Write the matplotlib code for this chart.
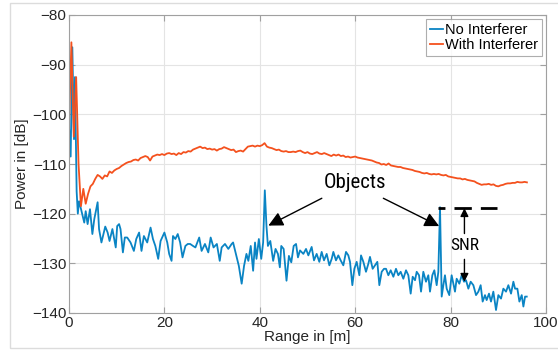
import numpy as np
import matplotlib.pyplot as plt
from matplotlib.patches import Rectangle

plt.rcParams['font.family'] = ['Liberation Sans', 'DejaVu Sans']
plt.rcParams['lines.scale_dashes'] = False

# range bins (m) and power (dB)
blue_range = [0.0, 0.35, 0.7, 1.05, 1.25, 1.6, 1.85, 2.1, 2.5, 3.2, 3.5, 3.9, 4.4, 4.9,
              5.3, 6.0, 6.3, 6.8, 7.6, 8.1, 8.5, 9.1, 9.8, 10.1, 10.5, 10.8, 11.3, 11.7,
              12.2, 12.9, 13.6, 14.1, 14.7, 15.2, 15.7, 16.4, 17.1, 17.6, 18.1, 18.7, 19.2,
              20.0, 20.6, 21.0, 21.5, 21.8, 22.3, 22.8, 23.3, 23.8, 24.4, 24.9, 25.4, 26.0,
              26.5, 27.3, 27.8, 28.5, 29.2, 29.7, 30.3, 31.0, 31.6, 32.0, 32.7, 33.4, 34.1,
              34.4, 35.1, 35.6, 36.2, 36.7, 37.2, 37.6, 38.1, 38.6, 39.0, 39.3, 39.8, 40.3,
              40.7, 41.05, 41.4, 41.7, 42.2, 42.8, 43.3, 43.8, 44.2, 44.5, 45.0, 45.6, 46.1,
              46.6, 47.1, 47.6, 48.0, 48.43, 49.13, 49.69, 50.18, 50.87, 51.36, 51.92, 52.48,
              52.97, 53.46, 54.02, 54.58, 55.07, 55.42, 55.97, 56.46, 56.95, 57.51, 58.07,
              58.56, 58.91, 59.4, 59.82, 60.31, 60.87, 61.22, 61.71, 62.26, 62.75, 63.1,
              63.66, 64.15, 64.64, 65.06, 65.55, 66.04, 66.46, 66.95, 67.44, 68.0, 68.55,
              69.04, 69.53, 70.09, 70.65, 71.14, 71.63, 72.05, 72.54, 72.89, 73.38, 73.8,
              74.28, 74.84, 75.33, 75.68, 76.17, 76.59, 77.08, 77.43, 77.78, 78.13, 78.48,
              78.82, 79.18, 79.73, 80.22, 80.57, 80.92, 81.27, 81.83, 82.32, 82.81, 83.23,
              83.72, 84.21, 84.77, 85.33, 85.82, 86.3, 86.72, 87.21, 87.56, 88.05, 88.47,
              88.96, 89.52, 90.01, 90.57, 91.06, 91.62, 92.11, 92.67, 93.16, 93.51, 94.0,
              94.42, 94.91, 95.26, 95.61, 95.96]
no_interferer = [-102.5, -108.5, -86.5, -105.0, -92.5, -115.5, -120.0, -117.5, -119.0, -121.8,
                 -119.5, -122.1, -119.1, -124.1, -121.1, -117.7, -123.1, -125.8, -122.6, -123.8,
                 -125.5, -123.1, -126.8, -122.5, -122.1, -123.1, -127.8, -124.8, -124.8, -125.8,
                 -127.5, -125.1, -123.8, -127.5, -124.5, -125.8, -122.8, -125.1, -126.5, -129.1,
                 -125.5, -123.8, -125.8, -128.1, -129.5, -124.5, -125.1, -124.1, -125.8, -128.8,
                 -126.5, -126.1, -126.1, -126.5, -126.8, -124.8, -127.5, -126.1, -127.8, -124.8,
                 -126.8, -126.1, -129.5, -126.8, -126.1, -127.1, -126.1, -125.8, -128.5, -130.5,
                 -134.1, -130.5, -128.1, -129.5, -126.5, -131.5, -125.8, -129.1, -125.1, -129.1,
                 -125.8, -115.3, -122.5, -126.5, -125.5, -129.5, -127.1, -128.1, -130.8, -126.5,
                 -127.1, -133.5, -128.5, -129.8, -126.5, -126.1, -128.8, -127.4, -128.1, -127.1,
                 -128.4, -126.7, -129.4, -128.1, -129.7, -127.7, -129.4, -128.1, -130.4, -129.1,
                 -127.7, -129.4, -128.4, -129.4, -130.4, -127.7, -128.4, -129.7, -134.4, -131.1,
                 -129.7, -132.4, -128.4, -129.7, -131.7, -130.1, -128.7, -131.1, -130.4, -129.7,
                 -134.4, -131.7, -131.1, -131.1, -132.4, -131.4, -132.7, -131.1, -132.4, -131.7,
                 -133.1, -131.4, -132.4, -136.1, -132.7, -133.4, -131.7, -132.4, -135.7, -131.7,
                 -133.7, -132.4, -135.7, -132.4, -131.4, -134.4, -131.7, -118.7, -136.7, -134.4,
                 -132.4, -135.1, -136.4, -132.4, -134.1, -135.7, -133.1, -134.1, -132.4, -133.7,
                 -133.4, -135.1, -133.7, -134.4, -136.4, -135.7, -134.4, -137.7, -136.4, -137.4,
                 -136.1, -137.7, -135.7, -139.4, -136.4, -137.1, -135.1, -135.7, -134.4, -136.1,
                 -133.7, -135.1, -135.1, -137.7, -136.4, -138.7, -136.7, -136.7]

orange_range = np.arange(0, 96.5, 0.5)
with_interferer = [-102.5, -85.5, -104.5, -92.5, -110.0, -118.5, -115.0, -118.0, -116.0, -114.5,
                   -114.0, -113.0, -112.2, -112.5, -113.0, -112.3, -112.5, -111.5, -111.8, -111.3,
                   -111.0, -110.8, -110.4, -110.1, -109.8, -109.6, -109.5, -109.2, -109.1, -109.3,
                   -108.8, -108.6, -108.4, -108.6, -109.3, -108.5, -108.3, -108.1, -108.2, -108.0,
                   -108.2, -107.9, -107.8, -108.0, -107.9, -108.2, -107.8, -108.0, -107.6, -107.7,
                   -107.4, -107.5, -107.1, -106.9, -106.7, -106.5, -106.8, -106.7, -107.0, -106.9,
                   -107.1, -107.0, -107.3, -107.0, -106.9, -106.6, -106.8, -107.0, -107.2, -107.1,
                   -107.6, -107.4, -107.3, -107.5, -107.0, -106.5, -106.4, -106.3, -106.5, -106.3,
                   -106.4, -106.2, -105.8, -106.5, -106.7, -106.8, -107.0, -107.2, -107.1, -107.4,
                   -107.5, -107.4, -107.6, -107.6, -107.5, -107.6, -107.4, -107.3, -107.6, -107.8,
                   -107.6, -107.9, -108.0, -107.8, -107.6, -107.9, -108.0, -107.8, -108.0, -108.2,
                   -108.4, -108.1, -108.3, -108.1, -108.4, -108.3, -108.6, -108.5, -108.7, -108.6,
                   -108.5, -108.7, -108.8, -108.9, -109.0, -109.1, -109.2, -109.3, -109.5, -109.7,
                   -109.8, -110.1, -110.0, -110.2, -109.9, -110.3, -110.4, -110.5, -110.6, -110.6,
                   -110.8, -110.9, -111.0, -111.1, -111.2, -111.4, -111.5, -111.6, -111.8, -111.9,
                   -111.8, -112.0, -112.1, -112.0, -112.1, -112.0, -112.2, -112.3, -112.2, -112.5,
                   -112.6, -112.7, -112.8, -112.9, -112.9, -113.1, -113.0, -113.2, -113.3, -113.4,
                   -113.5, -113.8, -114.0, -114.2, -114.1, -114.1, -114.0, -114.2, -114.1, -114.4,
                   -114.5, -114.3, -114.2, -114.0, -113.9, -113.9, -113.8, -113.8, -113.6, -113.7,
                   -113.7, -113.6, -113.7]

x_ticks = [0, 20, 40, 60, 80, 100]
y_ticks = [-140, -130, -120, -110, -100, -90, -80]

fig = plt.figure(figsize=(5.58, 3.54), dpi=100)
# light frame around the whole chart
fig.patches.append(Rectangle((10 / 558, 1 - 348 / 354), 560 / 558, 345 / 354,
                             transform=fig.transFigure, fill=False,
                             edgecolor='#dcdcdc', lw=1))

ax = fig.add_axes([69 / 558, 1 - 313 / 354, 477 / 558, 298 / 354])
ax.plot(blue_range, no_interferer, color='#0a84c4', lw=1.3, label='No Interferer')
ax.plot(orange_range, with_interferer, color='#f4511e', lw=1.3, label='With Interferer')

ax.set_xlim(0, 100)
ax.set_ylim(-140, -80)
ax.set_xticks(x_ticks)
ax.set_yticks(y_ticks)
ax.grid(True, color='#e4e4e4', lw=0.8)
ax.set_axisbelow(True)
for s in ax.spines.values():
    s.set_color('#a0a0a0')
ax.tick_params(direction='in', top=True, right=True, length=4, color='#a0a0a0',
               labelsize=11, labelcolor='#262626', pad=2)
ax.set_xlabel('Range in [m]', fontsize=11, color='#262626', labelpad=0)
ax.set_ylabel('Power in [dB]', fontsize=11, color='#262626', labelpad=2)

leg = ax.legend(loc='upper right', fontsize=10.5, handlelength=0.9, handletextpad=0.15,
                borderpad=0.25, labelspacing=0.1, borderaxespad=0.3, fancybox=False)
leg.get_frame().set_edgecolor('#9a9a9a')
leg.get_frame().set_linewidth(0.8)

# annotations
narrow = ['Roboto Condensed', 'Archivo Narrow', 'Barlow Semi Condensed', 'DejaVu Sans']
ax.text(60.0, -113.8, 'Objects', fontsize=15, family=narrow, ha='center', va='center')
arrow = dict(arrowstyle='-|>', color='k', lw=1.0, mutation_scale=22, shrinkA=0, shrinkB=0)
ax.annotate('', xy=(41.8, -122.4), xytext=(53.0, -116.9), arrowprops=arrow)
ax.annotate('', xy=(77.6, -122.5), xytext=(65.9, -116.9), arrowprops=arrow)

ax.plot([77.4, 89.8], [-118.8, -118.8], color='k', lw=2,
        linestyle=(7.5, (12.5, 6.5)))

ax.text(82.9, -126.5, 'SNR', fontsize=12.5, family=narrow, ha='center', va='center')
small = dict(arrowstyle='-|>', color='k', lw=1.0, mutation_scale=12, shrinkA=0, shrinkB=0)
ax.annotate('', xy=(82.9, -118.9), xytext=(82.9, -124.0), arrowprops=small)
ax.annotate('', xy=(82.9, -133.7), xytext=(82.9, -129.2), arrowprops=small)

fig.savefig('out.png', dpi=100)
